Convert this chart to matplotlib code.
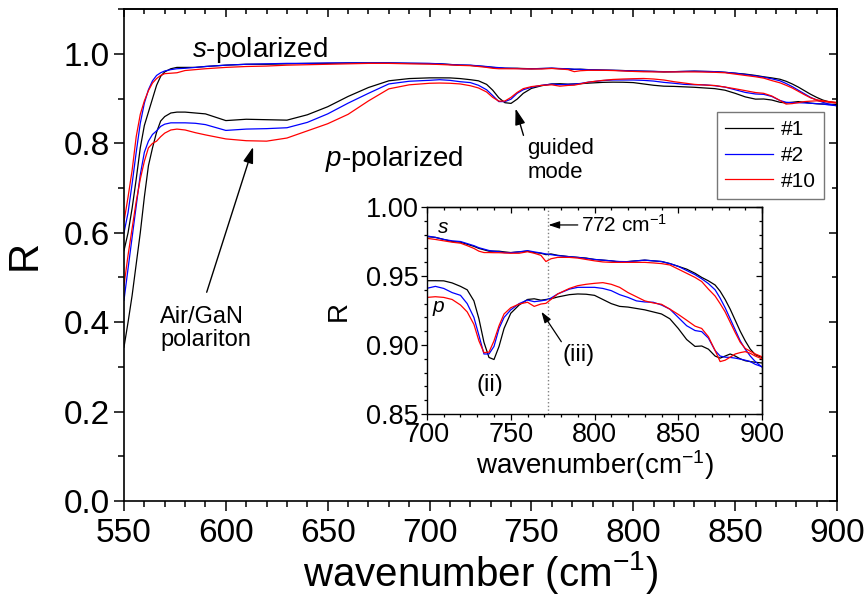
import matplotlib
matplotlib.use("Agg")
import matplotlib.pyplot as plt
from matplotlib.ticker import MultipleLocator

plt.rcParams["font.family"] = ["Liberation Sans", "DejaVu Sans"]
plt.rcParams["mathtext.fontset"] = "custom"
plt.rcParams["mathtext.rm"] = "Liberation Sans"
plt.rcParams["mathtext.it"] = "Liberation Sans:italic"

# wavenumber grid (cm-1), shared by every curve
wn = [550, 552, 554, 556, 558, 560, 562, 564, 566, 568,
      570, 573, 576, 580, 585, 590,
      600, 610, 620, 630, 640, 650, 660, 670, 680, 690,
      700, 705, 710, 715, 720, 724, 728, 731, 734, 737,
      740, 743, 746, 750, 755, 760, 764, 768, 771, 774,
      778, 785, 790, 795, 800, 805, 810, 815, 820, 825,
      830, 835, 840, 845, 850, 855, 860, 864, 868, 872,
      875, 878, 881, 884, 887, 890, 893, 896, 900]

# s-polarized reflectance
s_1 = [0.56, 0.60, 0.655, 0.72, 0.79, 0.84, 0.87, 0.90, 0.93, 0.95,
       0.96, 0.967, 0.970, 0.970, 0.970, 0.972,
       0.975, 0.977, 0.977, 0.978, 0.979, 0.979, 0.980, 0.980, 0.980, 0.979,
       0.9785, 0.978, 0.9765, 0.975, 0.9745, 0.973, 0.9715, 0.970, 0.969, 0.968,
       0.968, 0.968, 0.9675, 0.967, 0.9675, 0.968, 0.967, 0.9665, 0.9655, 0.966,
       0.965, 0.964, 0.9635, 0.963, 0.962, 0.9615, 0.961, 0.960, 0.9605, 0.961,
       0.9615, 0.961, 0.9605, 0.959, 0.957, 0.955, 0.952, 0.949, 0.9465, 0.9435,
       0.939, 0.933, 0.926, 0.918, 0.910, 0.903, 0.897, 0.893, 0.891]
s_2 = [0.60, 0.645, 0.71, 0.78, 0.845, 0.89, 0.92, 0.94, 0.952, 0.958,
       0.962, 0.965, 0.967, 0.968, 0.970, 0.972,
       0.975, 0.977, 0.978, 0.979, 0.979, 0.980, 0.980, 0.980, 0.980, 0.9795,
       0.979, 0.978, 0.9765, 0.9755, 0.975, 0.9735, 0.972, 0.9705, 0.9695, 0.9685,
       0.968, 0.9676, 0.967, 0.9669, 0.9675, 0.9684, 0.9675, 0.9667, 0.966, 0.9655,
       0.9648, 0.964, 0.9635, 0.9628, 0.962, 0.9615, 0.961, 0.9605, 0.9604, 0.961,
       0.9615, 0.961, 0.9605, 0.959, 0.957, 0.954, 0.951, 0.948, 0.9445, 0.940,
       0.934, 0.927, 0.919, 0.911, 0.903, 0.897, 0.892, 0.888, 0.884]
s_10 = [0.625, 0.68, 0.74, 0.815, 0.865, 0.895, 0.918, 0.935, 0.945, 0.952,
        0.956, 0.957, 0.958, 0.963, 0.965, 0.967,
        0.970, 0.972, 0.973, 0.975, 0.976, 0.977, 0.978, 0.979, 0.979, 0.978,
        0.9773, 0.9765, 0.9755, 0.9745, 0.9738, 0.972, 0.970, 0.968, 0.967, 0.967,
        0.9669, 0.9669, 0.9667, 0.9665, 0.9665, 0.9676, 0.9665, 0.965, 0.9605, 0.9625,
        0.9635, 0.9635, 0.963, 0.962, 0.961, 0.9602, 0.9599, 0.9599, 0.9599, 0.9599,
        0.9599, 0.9595, 0.959, 0.958, 0.955, 0.952, 0.949, 0.946, 0.9405, 0.9355,
        0.930, 0.924, 0.9165, 0.909, 0.902, 0.8975, 0.8955, 0.8935, 0.8915]

# p-polarized reflectance
p_1 = [0.344, 0.40, 0.46, 0.53, 0.60, 0.68, 0.75, 0.79, 0.825, 0.85,
       0.86, 0.868, 0.870, 0.870, 0.868, 0.866,
       0.851, 0.854, 0.853, 0.852, 0.864, 0.882, 0.905, 0.925, 0.940, 0.945,
       0.9466, 0.9466, 0.9465, 0.945, 0.9425, 0.940, 0.932, 0.919, 0.902, 0.891,
       0.8895, 0.899, 0.912, 0.923, 0.929, 0.933, 0.9335, 0.9325, 0.933, 0.9335,
       0.9348, 0.9365, 0.937, 0.9368, 0.936, 0.933, 0.930, 0.928, 0.9275, 0.9265,
       0.9255, 0.924, 0.9225, 0.919, 0.912, 0.904, 0.899, 0.8993, 0.897, 0.892,
       0.8905, 0.892, 0.8935, 0.892, 0.890, 0.8886, 0.888, 0.8875, 0.887]
p_2 = [0.449, 0.52, 0.59, 0.66, 0.73, 0.78, 0.805, 0.82, 0.828, 0.838,
       0.843, 0.846, 0.846, 0.846, 0.845, 0.842,
       0.829, 0.832, 0.833, 0.835, 0.847, 0.866, 0.890, 0.912, 0.933, 0.939,
       0.9411, 0.9425, 0.941, 0.938, 0.936, 0.930, 0.920, 0.907, 0.8935, 0.8935,
       0.899, 0.912, 0.920, 0.9255, 0.930, 0.9326, 0.9314, 0.932, 0.9326, 0.934,
       0.937, 0.9405, 0.9418, 0.9418, 0.9418, 0.941, 0.9394, 0.9365, 0.9345, 0.932,
       0.9312, 0.931, 0.929, 0.926, 0.920, 0.914, 0.9105, 0.9097, 0.905, 0.896,
       0.892, 0.8912, 0.891, 0.8905, 0.8898, 0.889, 0.888, 0.886, 0.8843]
p_10 = [0.482, 0.55, 0.61, 0.67, 0.72, 0.76, 0.79, 0.80, 0.805, 0.815,
        0.823, 0.830, 0.832, 0.830, 0.824, 0.819,
        0.810, 0.806, 0.805, 0.812, 0.828, 0.844, 0.865, 0.895, 0.922, 0.931,
        0.9345, 0.935, 0.9345, 0.933, 0.929, 0.924, 0.915, 0.903, 0.8945, 0.8948,
        0.903, 0.914, 0.9225, 0.927, 0.9297, 0.931, 0.928, 0.9297, 0.9302, 0.933,
        0.937, 0.941, 0.943, 0.944, 0.9447, 0.9452, 0.944, 0.9418, 0.938, 0.935,
        0.932, 0.9305, 0.9295, 0.926, 0.9222, 0.918, 0.9137, 0.912, 0.906, 0.896,
        0.888, 0.889, 0.8912, 0.8935, 0.8945, 0.8952, 0.894, 0.892, 0.890]

samples = ["#1", "#2", "#10"]
colors = ["black", "blue", "red"]
s_data = [s_1, s_2, s_10]
p_data = [p_1, p_2, p_10]


def inner_ticks(a, xmaj, xmin, ymaj, ymin, lmaj, lmin, w):
    # top / right ticks point inward, like the original frame
    top = a.secondary_xaxis("top")
    top.xaxis.set_major_locator(MultipleLocator(xmaj))
    top.xaxis.set_minor_locator(MultipleLocator(xmin))
    top.tick_params(which="both", direction="in", labeltop=False, width=w)
    top.tick_params(which="major", length=lmaj)
    top.tick_params(which="minor", length=lmin)
    right = a.secondary_yaxis("right")
    right.yaxis.set_major_locator(MultipleLocator(ymaj))
    right.yaxis.set_minor_locator(MultipleLocator(ymin))
    right.tick_params(which="both", direction="in", labelright=False, width=w)
    right.tick_params(which="major", length=lmaj)
    right.tick_params(which="minor", length=lmin)
    for s in list(top.spines.values()) + list(right.spines.values()):
        s.set_linewidth(w)


fig = plt.figure(figsize=(8.67, 5.99), dpi=100)
ax = fig.add_axes([0.143, 0.1636, 0.8224, 0.8209])

for name, c, s, p in zip(samples, colors, s_data, p_data):
    ax.plot(wn, s, color=c, lw=0.9, label=name)
    ax.plot(wn, p, color=c, lw=0.9)

ax.set_xlim(550, 900)
ax.set_ylim(0, 1.1)
ax.xaxis.set_major_locator(MultipleLocator(50))
ax.xaxis.set_minor_locator(MultipleLocator(10))
ax.yaxis.set_major_locator(MultipleLocator(0.2))
ax.yaxis.set_minor_locator(MultipleLocator(0.1))
ax.yaxis.set_major_formatter(plt.FormatStrFormatter("%.1f"))
ax.tick_params(which="both", direction="out", width=1.1, labelsize=24)
ax.tick_params(which="major", length=7)
ax.tick_params(which="minor", length=4)
ax.tick_params(axis="x", pad=5)
ax.tick_params(axis="y", pad=3)
for sp in ax.spines.values():
    sp.set_linewidth(1.2)
inner_ticks(ax, 50, 10, 0.2, 0.1, 6, 3.5, 1.1)

ax.set_xlabel("wavenumber (cm$^{-1}$)", fontsize=29, labelpad=0)
ax.set_ylabel("R", fontsize=30, labelpad=14)

ax.text(616.9, 1.010, "$\\it{s}$-polarized", fontsize=20, ha="center", va="center")
ax.text(682.7, 0.766, "$\\it{p}$-polarized", fontsize=20, ha="center", va="center")
ax.text(748.1, 0.762, "guided\nmode", fontsize=16, ha="left", va="center",
        linespacing=1.15)
ax.text(567.7, 0.386, "Air/GaN\npolariton", fontsize=17, ha="left", va="center",
        linespacing=1.1)

arrow = dict(arrowstyle="-|>,head_length=0.7,head_width=0.22", color="black",
             lw=1, mutation_scale=14, shrinkA=0, shrinkB=0)
ax.annotate("", xy=(613.4, 0.792), xytext=(590.6, 0.467), arrowprops=arrow)
ax.annotate("", xy=(742.2, 0.878), xytext=(746.1, 0.818), arrowprops=arrow)

leg = ax.legend(loc="upper left", bbox_to_anchor=(0.8317, 0.791), fontsize=15,
                frameon=True, fancybox=False, edgecolor="#555555",
                handlelength=2.3, handletextpad=0.35, labelspacing=0.32,
                borderpad=0.4, borderaxespad=0)
leg.get_frame().set_linewidth(1.0)

# inset
ins = fig.add_axes([0.4925, 0.3088, 0.3864, 0.3456])
for c, s, p in zip(colors, s_data, p_data):
    ins.plot(wn, s, color=c, lw=0.9)
    ins.plot(wn, p, color=c, lw=0.9)
ins.axvline(772, color="gray", ls=":", lw=1)
ins.set_xlim(700, 900)
ins.set_ylim(0.85, 1.0)
ins.xaxis.set_major_locator(MultipleLocator(50))
ins.xaxis.set_minor_locator(MultipleLocator(10))
ins.yaxis.set_major_locator(MultipleLocator(0.05))
ins.yaxis.set_minor_locator(MultipleLocator(0.01))
ins.yaxis.set_major_formatter(plt.FormatStrFormatter("%.2f"))
ins.tick_params(which="both", direction="out", width=0.9, labelsize=19.5, pad=2)
ins.tick_params(which="major", length=4)
ins.tick_params(which="minor", length=2.5)
for sp in ins.spines.values():
    sp.set_linewidth(1.0)
inner_ticks(ins, 50, 10, 0.05, 0.01, 4, 2.5, 0.9)
ins.set_xlabel("wavenumber(cm$^{-1}$)", fontsize=20, labelpad=0)
ins.set_ylabel("R", fontsize=20, labelpad=10)

ins.text(709.5, 0.9855, "$\\it{s}$", fontsize=15, ha="center", va="center")
ins.text(707, 0.9268, "$\\it{p}$", fontsize=15, ha="center", va="center")
ins.text(737.5, 0.871, "(ii)", fontsize=17, ha="center", va="center")
ins.text(790.5, 0.8928, "(iii)", fontsize=17, ha="center", va="center")
ins.text(792, 0.987, "772 cm$^{-1}$", fontsize=15, ha="left", va="center")
small = dict(arrowstyle="-|>,head_length=0.6,head_width=0.2", color="black",
             lw=0.9, mutation_scale=11, shrinkA=0, shrinkB=0)
ins.annotate("", xy=(768.3, 0.9241), xytext=(780.2, 0.9024), arrowprops=small)
ins.annotate("", xy=(772.5, 0.987), xytext=(790, 0.987), arrowprops=small)

fig.savefig("out.png", dpi=100)
